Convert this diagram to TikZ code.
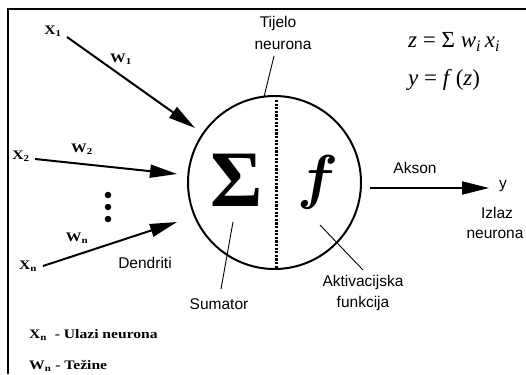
\documentclass[tikz,border=0pt]{standalone}
\usepackage{bm}
\usepackage{fontspec}
\setmainfont{Liberation Serif}
\newfontfamily\arialf{Liberation Sans}
\newfontfamily\widserif[FakeStretch=1.2]{Liberation Serif}
\usetikzlibrary{arrows.meta}
\tikzset{
  arr/.style={line width=2pt,-{Triangle[length=27pt,width=13pt]}},
  lead/.style={line width=0.9pt},
  sanslab/.style={font=\arialf\fontsize{15.5}{18}\selectfont,inner sep=1pt},
  serlab/.style={font=\widserif\bfseries\fontsize{13}{15}\selectfont,inner sep=1pt},
  eqlab/.style={font=\fontsize{23}{26}\selectfont,inner sep=0pt,anchor=base west},
  dotline/.style={line width=3pt,dash pattern=on 2.2pt off 1.4pt},
  bigdot/.style={circle,fill=black,inner sep=0pt,minimum size=6.5pt}
}
\begin{document}
\begin{tikzpicture}[x=1pt,y=-1pt]
\useasboundingbox (0,0) rectangle (526,374);
\fill[white] (0,0) rectangle (526,374);
% frame
\draw[line width=2pt] (8,374) -- (8,9) -- (526,9);

% neuron body
\node[circle,draw,line width=2pt,minimum size=173pt,inner sep=0pt] (neuron) at (274.5,182.5) {};
\draw[dotline] ([xshift=2pt]neuron.north) ++(0,5) coordinate (dtop) -- ([xshift=2pt]neuron.south) ++(0,-4) coordinate (dbot);
\node[font=\bfseries\fontsize{80}{80}\selectfont,inner sep=0pt] (sigma) at (237,180) {Σ};
\node[scale=3.5,inner sep=0pt] (fnode) at (318,182) {\LARGE$\bm{f}$};

% labels
\node[sanslab] (tij1) at (278,23) {Tijelo};
\node[sanslab] (tij2) at (283,45) {neurona};
\coordinate (tl1) at (274,56);
\coordinate (tl2) at (264,97);
\draw[lead] (tl1) -- (tl2);

\node[sanslab] (sum) at (219,304) {Sumator};
\coordinate (sl1) at (233,222);
\coordinate (sl2) at (221,289);
\draw[lead] (sl1) -- (sl2);

\node[sanslab] (akt1) at (363,282) {Aktivacijska};
\node[sanslab] (akt2) at (363,303) {funkcija};
\coordinate (al1) at (320,225);
\coordinate (al2) at (363,270);
\draw[lead] (al1) -- (al2);

% equations
\node[eqlab] (eq1) at (408,48) {\textit{z} = Σ \textit{w}\textsubscript{\itshape i}\,\textit{x}\textsubscript{\itshape i}};
\node[eqlab] (eq2) at (408,86) {\textit{y} = \textit{f}\,(\textit{z})};

% output
\coordinate (ax1) at (370,188);
\node[sanslab] (yout) at (503,186) {y};
\coordinate (ax2) at (489,188);
\draw[arr] (ax1) -- (ax2);
\node[sanslab] (akson) at (415,168) {Akson};
\node[sanslab] (izl1) at (497,213) {Izlaz};
\node[sanslab] (izl2) at (495,234) {neurona};

% inputs
\node[serlab] (x1) at (53,31) {X\textsubscript{1}};
\node[serlab] (w1) at (121,59) {W\textsubscript{1}};
\coordinate (s1) at (67,37);
\coordinate (t1) at (195,128);
\draw[arr] (s1) -- (t1);

\node[serlab] (x2) at (21,156) {X\textsubscript{2}};
\node[serlab] (w2) at (82,149) {W\textsubscript{2}};
\coordinate (s2) at (35,159);
\coordinate (t2) at (177,174);
\draw[arr] (s2) -- (t2);

\node[bigdot] (d1) at (108,195) {};
\node[bigdot] (d2) at (108,207) {};
\node[bigdot] (d3) at (108,219) {};

\node[serlab] (xn) at (28,266) {X\textsubscript{n}};
\node[serlab] (wn) at (77,238) {W\textsubscript{n}};
\coordinate (sn) at (43,266);
\coordinate (tn) at (177,222);
\draw[arr] (sn) -- (tn);
\node[sanslab] (dend) at (145,263) {Dendriti};

% legend
\node[serlab,anchor=west] (leg1) at (28,335) {X\textsubscript{n}\ \ - Ulazi neurona};
\node[serlab,anchor=west] (leg2) at (28,366) {W\textsubscript{n} - Težine};
\end{tikzpicture}
\end{document}
